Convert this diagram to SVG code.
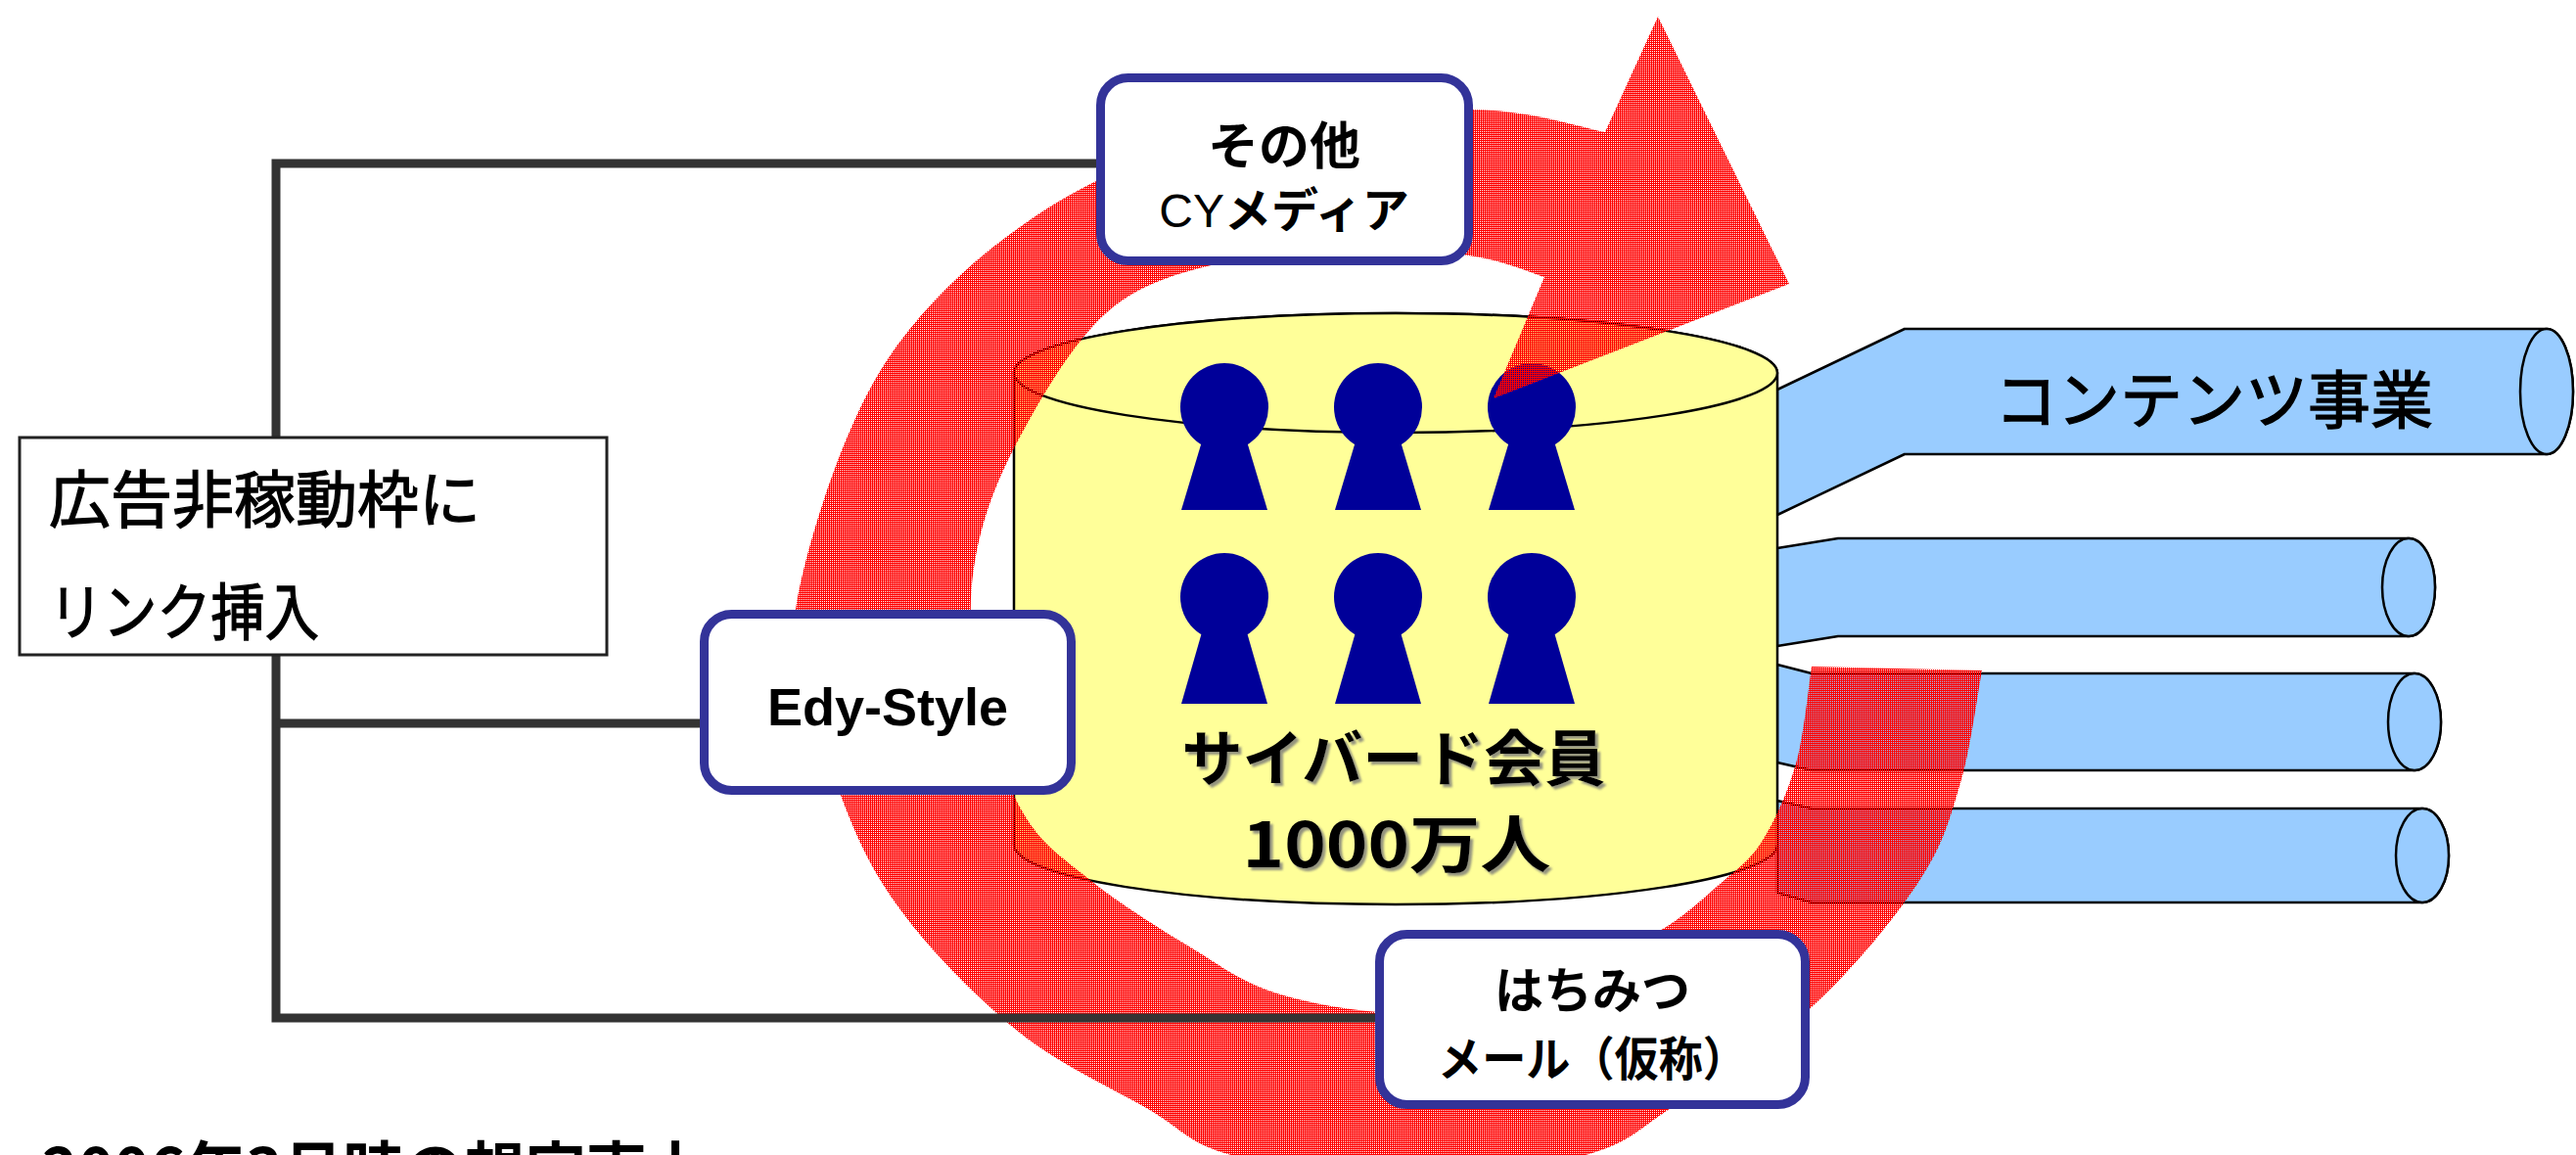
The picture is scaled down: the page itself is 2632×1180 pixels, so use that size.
<svg xmlns="http://www.w3.org/2000/svg" width="2632" height="1180" viewBox="0 0 2632 1180">
<style>
.jp{font-family:"Noto Sans CJK JP","Liberation Sans",sans-serif;fill:#000}
.mx{font-family:"Liberation Sans","Noto Sans CJK JP",sans-serif;fill:#000}
.b{font-weight:bold}
.thick{stroke:#000;stroke-width:1.3}
.box{fill:#fff;stroke:#333399;stroke-width:9}
.pipe{fill:#99CCFF;stroke:#000;stroke-width:2.5;stroke-linejoin:round}
.cyl{fill:#FFFF99;stroke:#000;stroke-width:2.5}
.person{fill:#000099}
.conn{fill:none;stroke:#333;stroke-width:9}
</style>
<defs>
<pattern id="hatch" patternUnits="userSpaceOnUse" width="4" height="4">
<path d="M0 0h4v4h-4z M0 0h1v1h-1z M2 2h1v1h-1z M2 0h1v1h-1z M0 2h1v1h-1z" fill="#FF0000" fill-rule="evenodd"/>
</pattern>
<filter id="shadow" x="-10%" y="-20%" width="120%" height="150%">
<feDropShadow dx="3" dy="3" stdDeviation="1" flood-color="#777" flood-opacity="0.8"/>
</filter>
</defs>
<rect width="2632" height="1180" fill="#fff"/>

<g id="pipes">
<g id="pipe1">
<path class="pipe" d="M1816,398 L1946,336 L2602,336 A27,64 0 0 1 2602,464 L1946,464 L1816,526 Z"/>
<ellipse class="pipe" cx="2602" cy="400" rx="27" ry="64"/>
<text class="jp thick" x="2038" y="432" font-size="64">コンテンツ事業</text>
</g>
<g id="pipe2">
<path class="pipe" d="M1816,560 L1878,550 L2461,550 A27,50 0 0 1 2461,650 L1878,650 L1816,660 Z"/>
<ellipse class="pipe" cx="2461" cy="600" rx="27" ry="50"/>
</g>
<g id="pipe3">
<path class="pipe" d="M1816,679 L1851,688 L2467,688 A27,49.5 0 0 1 2467,787 L1851,787 L1816,779 Z"/>
<ellipse class="pipe" cx="2467" cy="737.5" rx="27" ry="49.5"/>
</g>
<g id="pipe4">
<path class="pipe" d="M1816,818 L1851,826 L2475,826 A27,48 0 0 1 2475,922 L1851,922 L1816,912 Z"/>
<ellipse class="pipe" cx="2475" cy="874" rx="27" ry="48"/>
</g>
</g>

<g id="members">
<path class="cyl" d="M1036,381 L1036,863 A390,61 0 0 0 1816,863 L1816,381 A390,61 0 0 0 1036,381 Z"/>
<ellipse class="cyl" cx="1426" cy="381" rx="390" ry="61"/>
<g class="person">
<circle cx="1251" cy="416" r="45"/><path d="M1228,451 L1274,451 L1295,521 L1207,521 Z"/>
<circle cx="1408" cy="416" r="45"/><path d="M1385,451 L1431,451 L1452,521 L1364,521 Z"/>
<circle cx="1565" cy="416" r="45"/><path d="M1542,451 L1588,451 L1609,521 L1521,521 Z"/>
<circle cx="1251" cy="610" r="45"/><path d="M1228,646 L1274,646 L1295,719 L1207,719 Z"/>
<circle cx="1408" cy="610" r="45"/><path d="M1385,646 L1431,646 L1452,719 L1364,719 Z"/>
<circle cx="1565" cy="610" r="45"/><path d="M1542,646 L1588,646 L1609,719 L1521,719 Z"/>
</g>
<g filter="url(#shadow)">
<text class="jp b" x="1424" y="798" font-size="62" text-anchor="middle">サイバード会員</text>
<text class="jp b" x="1427" y="886" font-size="64" text-anchor="middle" textLength="315" lengthAdjust="spacingAndGlyphs">1000万人</text>
</g>
</g>

<g id="cycle-arrow">
<path fill="url(#hatch)" d="M2025,685 C2021.3,704.2 2013.7,764.2 2003,800 C1992.3,835.8 1986,862.2 1961,900 C1936,937.8 1894.8,988.7 1853,1027 C1811.2,1065.3 1748.8,1104.5 1710,1130 C1671.2,1155.5 1665,1167.5 1620,1180 C1575,1192.5 1500.3,1205 1440,1205 C1379.7,1205 1302.5,1192 1258,1180 C1213.5,1168 1210.7,1155.2 1173,1133 C1135.3,1110.8 1077.5,1085.8 1032,1047 C986.5,1008.2 933.7,954.5 900,900 C866.3,845.5 843.8,770 830,720 C816.2,670 804.5,658.3 817,600 C829.5,541.7 862.8,434.5 905,370 C947.2,305.5 1007.5,253 1070,213 C1132.5,173 1207.5,146.8 1280,130 C1352.5,113.2 1445,111.2 1505,112 C1565,112.8 1617.5,131.2 1640,135 L1694,17 L1828,290 L1526,407 L1578,283 C1566.2,279.5 1536.7,266.7 1507,262 C1477.3,257.3 1442.8,254 1400,255 C1357.2,256 1295,257.2 1250,268 C1205,278.8 1165.7,288.3 1130,320 C1094.3,351.7 1058.5,414.7 1036,458 C1013.5,501.3 1001,539.7 995,580 C989,620.3 991.7,658.3 1000,700 C1008.3,741.7 1025.8,796.7 1045,830 C1064.2,863.3 1086.7,877.2 1115,900 C1143.3,922.8 1183.3,947.8 1215,967 C1246.7,986.2 1268.3,1003.7 1305,1015 C1341.7,1026.3 1392.5,1035 1435,1035 C1477.5,1035 1517.7,1028.3 1560,1015 C1602.3,1001.7 1656.5,973.3 1689,955 C1721.5,936.7 1736.5,920.8 1755,905 C1773.5,889.2 1786.7,880.8 1800,860 C1813.3,839.2 1826.5,809.8 1835,780 C1843.5,750.2 1848.3,697.5 1851,681 Z"/>
</g>

<g id="connectors">
<path class="conn" d="M1120,167 H282 V1040 H1405"/>
<path class="conn" d="M282,739 H715"/>
</g>

<g id="ad-slots">
<rect x="20" y="447" width="600" height="222" fill="#fff" stroke="#222" stroke-width="3"/>
<text class="jp thick" x="50" y="533" font-size="63">広告非稼動枠に</text>
<text class="jp thick" x="50" y="648" font-size="63" textLength="276" lengthAdjust="spacingAndGlyphs">リンク挿入</text>
</g>

<g id="cy-media">
<rect class="box" x="1124.5" y="79.5" width="376" height="187" rx="28"/>
<text class="jp b" x="1312" y="168" font-size="52" text-anchor="middle">その他</text>
<text class="mx" x="1312" y="232" font-size="48" text-anchor="middle">CY<tspan font-weight="bold" font-family="Noto Sans CJK JP, sans-serif">メディア</tspan></text>
</g>

<g id="edy-style">
<rect class="box" x="719.5" y="627.5" width="375" height="180" rx="28"/>
<text class="mx b" x="907" y="741" font-size="54" text-anchor="middle">Edy-Style</text>
</g>

<g id="hachimitsu">
<rect class="box" x="1409.5" y="954.5" width="435" height="174" rx="28"/>
<text class="jp b" x="1627" y="1030" font-size="50" text-anchor="middle">はちみつ</text>
<text class="jp b" x="1627" y="1099" font-size="48" text-anchor="middle" textLength="316" lengthAdjust="spacingAndGlyphs">メール（仮称）</text>
</g>

<g id="footer">
<text class="jp b" x="43" y="1219" font-size="64" textLength="680" lengthAdjust="spacingAndGlyphs">2006年3月時の想定売上</text>
</g>
</svg>
